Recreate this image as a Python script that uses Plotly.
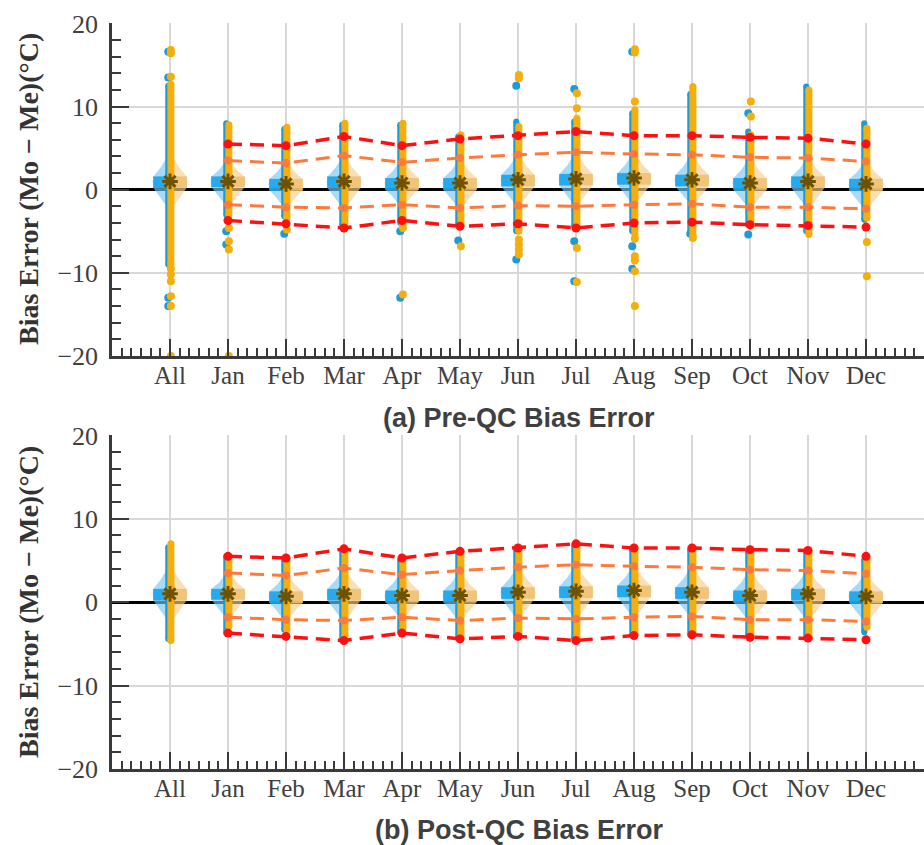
import plotly.graph_objects as go

# ---------------- data ----------------
categories = ["All", "Jan", "Feb", "Mar", "Apr", "May", "Jun",
              "Jul", "Aug", "Sep", "Oct", "Nov", "Dec"]
months = categories[1:]

# medians (same in both panels)
median = [1.0, 1.0, 0.7, 1.0, 0.8, 0.8, 1.2, 1.3, 1.4, 1.2, 0.8, 1.0, 0.7]
# inter-quartile boxes
box_lo = [0.2, 0.3, -0.1, 0.2, 0.0, 0.0, 0.4, 0.5, 0.6, 0.4, 0.0, 0.2, -0.1]
box_hi = [1.6, 1.6, 1.3, 1.6, 1.4, 1.4, 1.8, 1.9, 2.0, 1.8, 1.4, 1.6, 1.3]
# violin extents
vio_lo = [-2.6, -2.2, -2.4, -2.4, -2.2, -2.4, -2.2, -2.2, -2.0, -2.0, -2.4, -2.4, -2.6]
vio_hi = [4.6, 3.8, 3.6, 4.2, 3.8, 3.8, 4.4, 4.6, 4.6, 4.4, 4.0, 4.0, 3.6]

# monthly percentile lines (Jan..Dec)
p_red_hi = [5.5, 5.3, 6.4, 5.3, 6.1, 6.5, 7.0, 6.5, 6.5, 6.3, 6.2, 5.5]
p_org_hi = [3.5, 3.2, 4.1, 3.3, 3.8, 4.2, 4.5, 4.3, 4.2, 3.9, 3.8, 3.4]
p_org_lo = [-1.8, -2.1, -2.2, -1.8, -2.2, -1.9, -2.0, -1.8, -1.7, -2.1, -2.1, -2.3]
p_red_lo = [-3.7, -4.1, -4.6, -3.7, -4.4, -4.1, -4.6, -4.0, -3.9, -4.2, -4.3, -4.5]

# ---- pre-QC points: dense ranges and isolated points ----
pre_org_lo = [-9.0, -3.0, -3.4, -4.6, -4.2, -4.4, -5.0, -4.6, -5.4, -5.6, -4.4, -5.4, -3.4]
pre_org_hi = [12.7, 7.8, 7.5, 8.0, 8.0, 6.6, 7.6, 8.6, 9.6, 12.4, 6.6, 12.0, 7.4]
pre_blu_lo = [-9.0, -3.0, -3.2, -4.2, -4.0, -4.2, -5.0, -4.4, -5.0, -5.2, -4.2, -5.0, -3.6]
pre_blu_hi = [12.5, 8.0, 7.3, 7.8, 7.8, 6.4, 8.2, 8.2, 9.2, 11.5, 7.0, 12.4, 8.0]
pre_org_out = [
    [13.6, 16.4, 16.8, -9.5, -10.2, -11.0, -12.8, -14.0, -20.0],
    [-4.6, -6.2, -7.2, -20.0],
    [-4.8],
    [],
    [-4.6, -12.6],
    [-6.8],
    [13.8, 13.4, -6.0, -6.6, -7.2, -7.8],
    [11.6, 9.8, -7.0, -11.1],
    [10.6, 16.5, 16.9, -5.9, -8.0, -8.5, -9.8, -14.0],
    [-5.8],
    [10.6, 8.8],
    [],
    [-6.3, -10.4],
]
pre_blu_out = [
    [16.6, 13.5, -13.0, -14.0],
    [-5.0, -6.6],
    [-5.3],
    [],
    [-5.0, -13.0],
    [-6.1],
    [12.5, -8.4],
    [12.1, -6.2, -11.0],
    [16.6, -6.8, -9.5],
    [-5.3],
    [9.2, -5.4],
    [],
    [],
]

# ---- post-QC points: dense ranges ----
post_org_lo = [-4.6, -2.9, -3.3, -4.0, -3.2, -4.4, -4.1, -4.6, -3.8, -3.6, -4.2, -4.3, -3.0]
post_org_hi = [7.0, 5.5, 5.2, 6.4, 5.3, 6.1, 6.5, 7.0, 6.5, 6.5, 6.3, 6.2, 5.3]
post_blu_lo = [-4.4, -3.7, -3.3, -4.6, -3.6, -4.2, -4.0, -4.4, -4.0, -3.9, -4.0, -4.3, -3.6]
post_blu_hi = [6.6, 5.5, 5.0, 6.2, 5.1, 6.0, 6.3, 6.8, 6.3, 6.3, 6.1, 6.0, 5.1]

yticks = [-20, -10, 0, 10, 20]

# ---------------- styles ----------------
C_BLUE = "#1E9AD6"
C_ORG = "#F5AE0A"
C_VBLUE = "rgba(120,198,242,0.65)"
C_VORG = "rgba(246,206,140,0.65)"
C_BBLUE = "rgba(16,160,235,0.85)"
C_BORG = "rgba(238,192,110,0.85)"
C_RED = "#FF1010"
C_PORG = "#FF7A3A"
C_MED = "#6E5200"
AX = "#3a3a3a"
GRID = "#d8d8d8"
SERIF = "Liberation Serif, Times New Roman, serif"

VW = 0.30   # violin half width
BW = 0.29   # box half width
OFF_B = -0.03
OFF_O = 0.015

fig = go.Figure()


def add_panel(xa, ya, org_lo, org_hi, blu_lo, blu_hi, org_out, blu_out):
    xs = list(range(len(categories)))
    # violins
    for i, x in enumerate(xs):
        lo, hi, m = vio_lo[i], vio_hi[i], median[i]
        ys = [lo, lo + 0.5 * (m - lo), box_lo[i], m, box_hi[i], m + 0.5 * (hi - m), hi]
        ws = [0, 0.6, 0.95, 1.0, 0.95, 0.5, 0]
        fig.add_trace(go.Scatter(
            x=[x - VW * w for w in ws] + [x], y=ys + [lo], fill="toself",
            fillcolor=C_VBLUE, line=dict(width=0), mode="lines",
            hoverinfo="skip", showlegend=False, xaxis=xa, yaxis=ya))
        fig.add_trace(go.Scatter(
            x=[x + VW * w for w in ws] + [x], y=ys + [lo], fill="toself",
            fillcolor=C_VORG, line=dict(width=0), mode="lines",
            hoverinfo="skip", showlegend=False, xaxis=xa, yaxis=ya))
        # boxes
        fig.add_trace(go.Scatter(
            x=[x - BW, x, x, x - BW, x - BW], y=[box_lo[i], box_lo[i], box_hi[i], box_hi[i], box_lo[i]],
            fill="toself", fillcolor=C_BBLUE, line=dict(width=0), mode="lines",
            hoverinfo="skip", showlegend=False, xaxis=xa, yaxis=ya))
        fig.add_trace(go.Scatter(
            x=[x, x + BW, x + BW, x, x], y=[box_lo[i], box_lo[i], box_hi[i], box_hi[i], box_lo[i]],
            fill="toself", fillcolor=C_BORG, line=dict(width=0), mode="lines",
            hoverinfo="skip", showlegend=False, xaxis=xa, yaxis=ya))

    # dense columns + isolated points
    for lo_a, hi_a, outs, off, col, lw in [(blu_lo, blu_hi, blu_out, OFF_B, C_BLUE, 6),
                                           (org_lo, org_hi, org_out, OFF_O, C_ORG, 7)]:
        lx, ly = [], []
        for i, x in enumerate(xs):
            lx += [x + off, x + off, None]
            ly += [lo_a[i], hi_a[i], None]
        fig.add_trace(go.Scatter(x=lx, y=ly, mode="lines+markers",
                                 line=dict(color=col, width=lw),
                                 marker=dict(color=col, size=lw),
                                 hoverinfo="skip", showlegend=False, xaxis=xa, yaxis=ya))
        px, py = [], []
        for i, x in enumerate(xs):
            for v in outs[i]:
                px.append(x + off)
                py.append(v)
        if px:
            fig.add_trace(go.Scatter(x=px, y=py, mode="markers",
                                     marker=dict(color=col, size=8),
                                     hoverinfo="skip", showlegend=False, xaxis=xa, yaxis=ya))

    # medians
    fig.add_trace(go.Scatter(x=xs, y=median, mode="markers",
                             marker=dict(symbol="asterisk-open", size=13, color=C_MED,
                                         line=dict(color=C_MED, width=3)),
                             hoverinfo="skip", showlegend=False, xaxis=xa, yaxis=ya))

    # percentile lines over months
    mx = list(range(1, len(categories)))
    for vals, col, w, ms in [(p_org_hi, C_PORG, 3, 8), (p_org_lo, C_PORG, 3, 8),
                             (p_red_hi, C_RED, 3.5, 9), (p_red_lo, C_RED, 3.5, 9)]:
        fig.add_trace(go.Scatter(x=mx, y=vals, mode="lines+markers",
                                 line=dict(color=col, width=w, dash="14px,8px"),
                                 marker=dict(color=col, size=ms),
                                 hoverinfo="skip", showlegend=False, xaxis=xa, yaxis=ya))


add_panel("x", "y", pre_org_lo, pre_org_hi, pre_blu_lo, pre_blu_hi, pre_org_out, pre_blu_out)
add_panel("x2", "y2", post_org_lo, post_org_hi, post_blu_lo, post_blu_hi,
          [[] for _ in categories], [[] for _ in categories])

H = 845
T, B = 23, 76
ph = H - T - B
top_dom = [(769 - 356) / ph, 1.0]
bot_dom = [0.0, (769 - 435) / ph]

xax = dict(range=[-1, 13], tickvals=list(range(len(categories))), ticktext=categories,
           showgrid=True, gridcolor=GRID, gridwidth=1.5,
           showline=True, linecolor=AX, linewidth=2.5,
           ticks="inside", ticklen=17, tickwidth=2, tickcolor=AX,
           minor=dict(ticks="inside", ticklen=8, tickwidth=1.5, tickcolor=AX, dtick=1 / 6, tick0=0,
                      showgrid=False),
           tickfont=dict(family=SERIF, size=25, color="#404040"),
           ticklabelstandoff=-5,
           zeroline=False, fixedrange=True, domain=[0, 1])
yax = dict(range=[-20, 20.05], tickvals=yticks,
           showgrid=True, gridcolor=GRID, gridwidth=1.5,
           showline=True, linecolor=AX, linewidth=2.5,
           ticks="inside", ticklen=17, tickwidth=2, tickcolor=AX,
           minor=dict(ticks="inside", ticklen=9, tickwidth=1.5, tickcolor=AX, dtick=2, showgrid=False),
           tickfont=dict(family=SERIF, size=26, color="#404040"),
           ticklabelstandoff=6,
           zeroline=True, zerolinecolor="#000000", zerolinewidth=2.5)

fig.update_layout(
    width=924, height=845,
    margin=dict(l=112, r=0, t=T, b=B),
    paper_bgcolor="white", plot_bgcolor="white",
    xaxis=dict(xax, anchor="y"),
    yaxis=dict(yax, domain=top_dom, anchor="x"),
    xaxis2=dict(xax, anchor="y2"),
    yaxis2=dict(yax, domain=bot_dom, anchor="x2"),
    showlegend=False,
)

ytitle = "Bias Error (Mo − Me)(°C)"
for yc in [(769 - 189) / ph, (769 - 602) / ph]:
    fig.add_annotation(text="<b>" + ytitle + "</b>", xref="paper", yref="paper",
                       x=(28 - 112) / 812, y=yc, xanchor="center", yanchor="middle",
                       textangle=-90, showarrow=False,
                       font=dict(family=SERIF, size=28, color="#333333"))

for txt, ypix in [("(a) Pre-QC Bias Error", 418), ("(b) Post-QC Bias Error", 830)]:
    fig.add_annotation(text="<b>" + txt + "</b>", xref="paper", yref="paper",
                       x=(519 - 112) / 812, y=(769 - ypix) / ph, xanchor="center", yanchor="middle",
                       showarrow=False, bgcolor="white",
                       font=dict(family="Liberation Sans, Arial, sans-serif", size=27, color="#404040"))

fig.write_html("out.html")
